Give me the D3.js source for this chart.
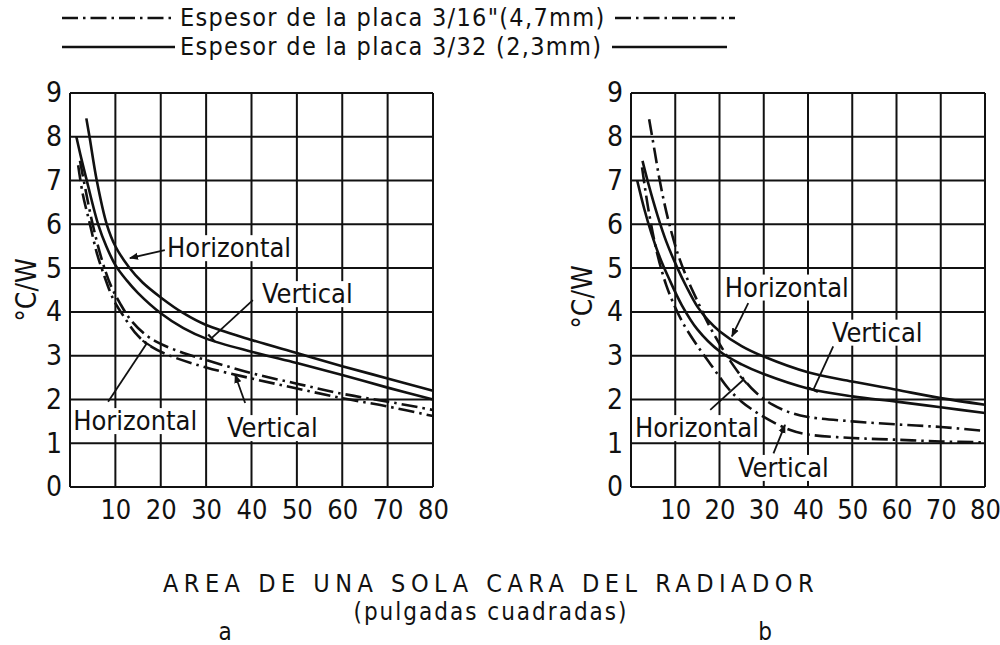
<!DOCTYPE html>
<html>
<head>
<meta charset="utf-8">
<script src="https://cdn.jsdelivr.net/npm/d3@7/dist/d3.min.js"></script>
<style>
body { margin: 0; background: #fff; }
text { font-family: "DejaVu Sans Condensed", "Liberation Sans Narrow", "DejaVu Sans", sans-serif; fill: #111; }
</style>
</head>
<body>
<svg id="chart" width="1000" height="645"></svg>
<script>
var xTicks = [10, 20, 30, 40, 50, 60, 70, 80];
var yTicks = [0, 1, 2, 3, 4, 5, 6, 7, 8, 9];

var legendLabels = ['Espesor de la placa 3/16"(4,7mm)', 'Espesor de la placa 3/32 (2,3mm)'];
var xTitle = 'AREA DE UNA SOLA CARA DEL RADIADOR';
var xSubTitle = '(pulgadas cuadradas)';
var yTitle = '\u00b0C/W';

// figura a  [area, C/W]
var aHoriz32 = [[3.6, 8.42], [4.3, 8.0], [5.9, 7.0], [8.1, 6.0], [10, 5.5], [13, 5.02], [16, 4.67], [20, 4.33], [25, 3.97], [30, 3.7], [40, 3.36], [50, 3.06], [60, 2.76], [70, 2.48], [80, 2.2]];
var aVert32 = [[1.4, 8.0], [2.5, 7.5], [3.7, 7.0], [6.2, 6.0], [8, 5.5], [10, 5.07], [12.5, 4.72], [15, 4.43], [20, 3.97], [25, 3.63], [30, 3.39], [40, 3.09], [50, 2.83], [60, 2.56], [70, 2.27], [80, 2.0]];
var aHoriz16 = [[2.2, 7.45], [3.5, 6.75], [5, 6.0], [7, 5.2], [9, 4.6], [11, 4.2], [13.5, 3.8], [17, 3.45], [20, 3.27], [25, 3.06], [30, 2.9], [40, 2.6], [50, 2.36], [60, 2.13], [70, 1.95], [80, 1.76]];
var aVert16 = [[1.8, 7.35], [2.8, 6.7], [4.4, 6.0], [5.9, 5.35], [7.3, 4.9], [9.5, 4.3], [11.5, 3.95], [15, 3.45], [18, 3.2], [22, 3.0], [30, 2.73], [40, 2.48], [50, 2.25], [60, 2.03], [70, 1.84], [80, 1.62]];

// figura b
var bHoriz32 = [[2.6, 7.45], [4, 6.9], [6, 6.2], [8, 5.6], [10.5, 5.0], [12.5, 4.58], [15, 4.12], [17.5, 3.8], [20, 3.56], [25, 3.22], [30, 2.98], [40, 2.62], [50, 2.41], [60, 2.22], [70, 2.03], [80, 1.88]];
var bVert32 = [[1.4, 7.0], [3, 6.35], [4.6, 5.8], [6.5, 5.25], [8.5, 4.78], [11.5, 4.15], [15, 3.6], [20, 3.1], [25, 2.8], [30, 2.58], [40, 2.25], [50, 2.07], [60, 1.95], [70, 1.82], [80, 1.69]];
var bHoriz16 = [[4.1, 8.4], [5.3, 7.7], [6.4, 7.05], [7.5, 6.5], [8.8, 5.95], [10.5, 5.35], [12.2, 4.88], [15, 4.25], [17.5, 3.72], [20, 3.27], [22.5, 2.87], [25, 2.52], [28, 2.18], [32, 1.88], [36, 1.7], [40, 1.6], [50, 1.5], [60, 1.43], [70, 1.37], [80, 1.28]];
var bVert16 = [[2.5, 7.3], [4, 6.3], [6, 5.3], [8, 4.6], [10, 4.1], [12, 3.7], [14.3, 3.33], [16, 3.08], [18, 2.8], [20, 2.52], [22, 2.25], [25, 1.95], [30, 1.6], [36, 1.3], [40, 1.2], [50, 1.12], [60, 1.08], [70, 1.04], [80, 1.02]];

// rotulos: [texto, x, y, flecha desde, flecha hasta, tipo]
var aNotes = [
    ['Horizontal', 21.4, 5.25, [20.9, 5.41], [13.2, 5.23], 'arrow'],
    ['Vertical', 42.3, 4.2, [40.3, 4.27], [31.2, 3.4], 'tick'],
    ['Horizontal', 0.7, 1.3, [8.4, 1.95], [16.9, 3.28], 'tick'],
    ['Vertical', 34.6, 1.14, [38.6, 1.92], [36.4, 2.56], 'arrow']
];
var bNotes = [
    ['Horizontal', 21.2, 4.35, [26.5, 4.2], [22.8, 3.44], 'arrow'],
    ['Vertical', 45.4, 3.32, [45.7, 3.21], [41.2, 2.22], 'tick'],
    ['Horizontal', 0.9, 1.14, [17.9, 1.76], [25.4, 2.45], 'tick'],
    ['Vertical', 24.2, 0.23, [32.2, 0.77], [34.8, 1.42], 'arrow']
];

var dashDot = '16,5,2.5,5';

var svg = d3.select('#chart');

svg.append('defs').append('marker')
    .attr('id', 'head')
    .attr('viewBox', '0 0 10 10')
    .attr('refX', 9).attr('refY', 5)
    .attr('markerWidth', 9).attr('markerHeight', 9)
    .attr('markerUnits', 'userSpaceOnUse')
    .attr('orient', 'auto')
    .append('path').attr('d', 'M0,1 L10,5 L0,9 Z').attr('fill', '#111');

function drawPanel(cfg) {
    var x = d3.scaleLinear().domain([0, 80]).range([cfg.left, cfg.right]);
    var y = d3.scaleLinear().domain([0, 9]).range([cfg.bottom, cfg.top]);
    var g = svg.append('g');

    // rejilla
    g.selectAll('line.vg').data([0].concat(xTicks)).enter().append('line')
        .attr('x1', function(d) { return x(d); }).attr('x2', function(d) { return x(d); })
        .attr('y1', y(0)).attr('y2', y(9))
        .attr('stroke', '#111').attr('stroke-width', 2);
    g.selectAll('line.hg').data(yTicks).enter().append('line')
        .attr('y1', function(d) { return y(d); }).attr('y2', function(d) { return y(d); })
        .attr('x1', x(0)).attr('x2', x(80))
        .attr('stroke', '#111').attr('stroke-width', 2);

    var xAxis = d3.axisBottom(x).tickValues(xTicks).tickSize(0).tickPadding(13);
    g.append('g').attr('transform', 'translate(0,' + y(0) + ')').call(xAxis)
        .call(function(s) { s.select('.domain').remove(); })
        .selectAll('text').style('font-size', '27px').attr('fill', '#111');

    var yAxis = d3.axisLeft(y).tickValues(yTicks).tickSize(0).tickPadding(cfg.yPad);
    g.append('g').attr('transform', 'translate(' + x(0) + ',0)').call(yAxis)
        .call(function(s) { s.select('.domain').remove(); })
        .selectAll('text').style('font-size', '28px').attr('fill', '#111');

    g.append('text')
        .attr('transform', 'translate(' + cfg.yTitleX + ',' + cfg.yTitleY + ') rotate(-90)')
        .attr('text-anchor', 'middle')
        .style('font-size', '28px')
        .text(yTitle);

    var line = d3.line()
        .x(function(d) { return x(d[0]); })
        .y(function(d) { return y(d[1]); })
        .curve(d3.curveCatmullRom.alpha(0.5));

    cfg.series.forEach(function(s) {
        g.append('path').datum(s.data)
            .attr('d', line)
            .attr('fill', 'none')
            .attr('stroke', '#111')
            .attr('stroke-width', 2.6)
            .attr('stroke-dasharray', s.dash ? dashDot : null);
    });

    // rotulos con fondo blanco
    cfg.notes.forEach(function(n) {
        var t = g.append('text')
            .attr('x', x(n[1])).attr('y', y(n[2]))
            .style('font-size', '27px')
            .text(n[0]);
        var bb = t.node().getBBox();
        g.insert('rect', function() { return t.node(); })
            .attr('x', bb.x - 2).attr('y', bb.y + 3)
            .attr('width', bb.width + 4).attr('height', bb.height - 5)
            .attr('fill', '#fff');
        var x1 = x(n[3][0]), y1 = y(n[3][1]), x2 = x(n[4][0]), y2 = y(n[4][1]);
        var p = g.append('line')
            .attr('x1', x1).attr('y1', y1)
            .attr('x2', x2).attr('y2', y2)
            .attr('stroke', '#111').attr('stroke-width', 1.8);
        if (n[5] === 'arrow') {
            p.attr('marker-end', 'url(#head)');
        } else {
            // pequeño trazo perpendicular en la punta
            var len = Math.sqrt((x2 - x1) * (x2 - x1) + (y2 - y1) * (y2 - y1));
            var ux = (x2 - x1) / len, uy = (y2 - y1) / len;
            g.append('line')
                .attr('x1', x2 - uy * 5).attr('y1', y2 + ux * 5)
                .attr('x2', x2 + uy * 5).attr('y2', y2 - ux * 5)
                .attr('stroke', '#111').attr('stroke-width', 2.2);
        }
    });
}

drawPanel({
    left: 70, right: 433, top: 93, bottom: 487,
    yPad: 8, yTitleX: 36, yTitleY: 290,
    series: [
        { data: aHoriz32, dash: false },
        { data: aVert32, dash: false },
        { data: aHoriz16, dash: true },
        { data: aVert16, dash: true }
    ],
    notes: aNotes
});

drawPanel({
    left: 631, right: 985, top: 93, bottom: 487,
    yPad: 8, yTitleX: 592, yTitleY: 297,
    series: [
        { data: bHoriz32, dash: false },
        { data: bVert32, dash: false },
        { data: bHoriz16, dash: true },
        { data: bVert16, dash: true }
    ],
    notes: bNotes
});

// leyenda
var legend = svg.append('g');
[{ y: 18, dash: true, x2a: 175, x1b: 615, x2b: 735 },
 { y: 47, dash: false, x2a: 175, x1b: 612, x2b: 727 }].forEach(function(r, i) {
    legend.append('line').attr('x1', 62).attr('x2', r.x2a).attr('y1', r.y).attr('y2', r.y)
        .attr('stroke', '#111').attr('stroke-width', 2.6)
        .attr('stroke-dasharray', r.dash ? dashDot : null);
    legend.append('line').attr('x1', r.x1b).attr('x2', r.x2b).attr('y1', r.y).attr('y2', r.y)
        .attr('stroke', '#111').attr('stroke-width', 2.6)
        .attr('stroke-dasharray', r.dash ? dashDot : null);
    legend.append('text').attr('x', 180).attr('y', r.y + 8)
        .style('font-size', '25px').style('letter-spacing', '1.3px')
        .text(legendLabels[i]);
});

svg.append('text').attr('x', 491).attr('y', 592)
    .attr('text-anchor', 'middle').style('font-size', '25px').style('letter-spacing', '5.5px')
    .text(xTitle);
svg.append('text').attr('x', 491).attr('y', 620)
    .attr('text-anchor', 'middle').style('font-size', '24px').style('letter-spacing', '2px')
    .text(xSubTitle);
svg.append('text').attr('x', 225).attr('y', 640)
    .attr('text-anchor', 'middle').style('font-size', '24px').text('a');
svg.append('text').attr('x', 765).attr('y', 640)
    .attr('text-anchor', 'middle').style('font-size', '24px').text('b');
</script>
</body>
</html>
